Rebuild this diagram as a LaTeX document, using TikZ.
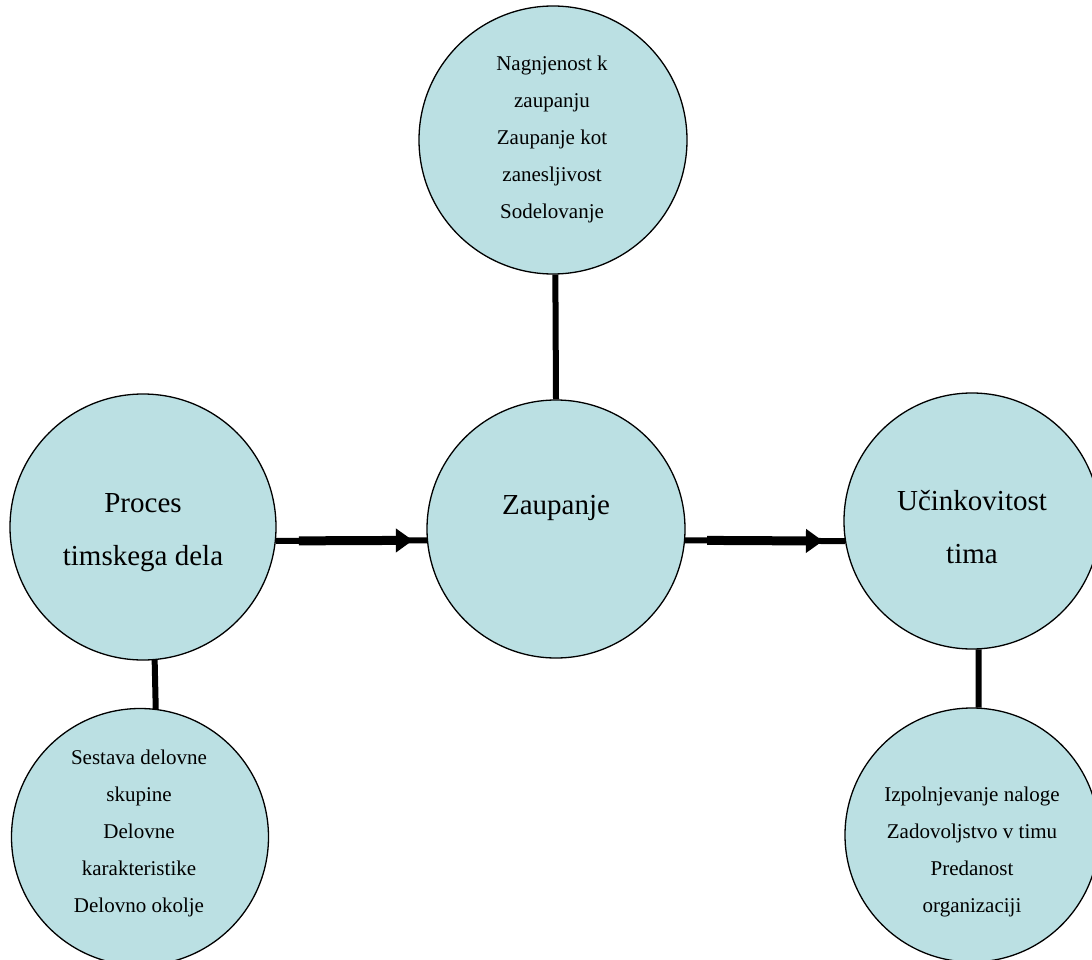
\documentclass[tikz,border=0pt]{standalone}
\usepackage{fontspec}
\setmainfont{Liberation Serif}
\usepackage{tikz}
\usetikzlibrary{arrows.meta}
\usepackage{xcolor}
\definecolor{circfill}{RGB}{187,224,227}

\begin{document}
\begin{tikzpicture}[
        x=1pt, y=-1pt,
        % Styles for the circles
        circ/.style={circle, draw=black, line width=1.3pt, fill=circfill, inner sep=0pt, minimum size=#1},
        circ/.default=258pt,
        % Styles for the texts and lines
        bigtext/.style={align=center, font=\fontsize{29}{53}\selectfont, text=black},
        smalltext/.style={align=center, font=\fontsize{21}{37}\selectfont, text=black},
        link/.style={line width=6pt, draw=black},
        arrow/.style={-{Triangle[length=17pt 0 0, width=23pt 0 0]}, line width=9pt, draw=black}
    ]
    \useasboundingbox (0,0) rectangle (1092,960);
    \clip (0,0) rectangle (1092,960);

    % --- CIRCLES ---
    \node[circ=268pt] (Nag) at (553,140) {};
    \node[circ=258pt] (Zaup) at (556,529) {};
    \node[circ=266pt] (Proc) at (143,527) {};
    \node[circ=256pt] (Ucin) at (972,521) {};
    \node[circ=257pt] (Sest) at (140,837) {};
    \node[circ=254pt] (Izpol) at (972,835) {};

    % --- TEXTS ---
    \node[smalltext] (TNag) at (552,139) {Nagnjenost k\\zaupanju\\Zaupanje kot\\zanesljivost\\Sodelovanje};
    \node[bigtext] (TZaup) at (556,508) {Zaupanje};
    \node[bigtext] (TProc) at (143,533) {Proces\\timskega dela};
    \node[bigtext] (TUcin) at (972,527) {Učinkovitost\\tima};
    \node[smalltext] (TSest) at (139,833) {Sestava delovne\\skupine\\Delovne\\karakteristike\\Delovno okolje};
    \node[smalltext] (TIzpol) at (972,852) {Izpolnjevanje naloge\\Zadovoljstvo v timu\\Predanost\\organizaciji};

    % --- LINKS ---
    \draw[link] (Nag.-89) -- (Zaup.north);
    \draw[link] (Proc.-85) -- (Sest.83);
    \draw[link] (Ucin.-87) -- (Izpol.87);
    \draw[link] (Proc.-6) -- (Zaup.-175);
    \draw[link] (Zaup.-5) -- (Ucin.-171);

    % --- ARROWS ---
    \draw[arrow, shorten <=23pt, shorten >=14pt] (Proc.-6) -- (Zaup.-175);
    \draw[arrow, shorten <=22pt, shorten >=22pt] (Zaup.-5) -- (Ucin.-171);

\end{tikzpicture}
\end{document}
